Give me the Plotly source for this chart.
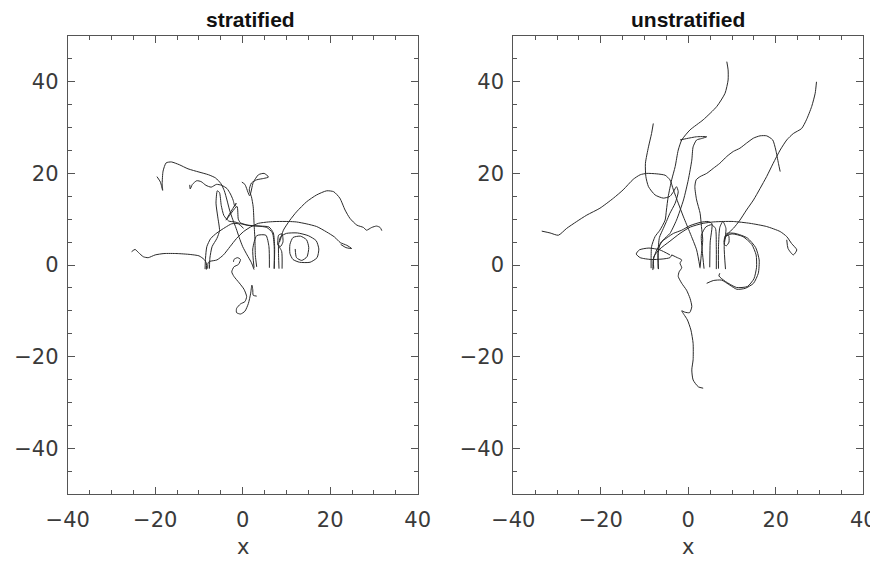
import plotly.graph_objects as go

# page is rendered with an 8px body margin, so the figure is offset by 8px
PAGE_OFF = 8
W, H = 878 - PAGE_OFF, 561 - PAGE_OFF

# ---------------- data: stratified (left panel) ----------------
s1_x = [-25.4, -24.6, -23.8, -22.7, -21.6, -20.0, -18.0, -15.0, -12.0, -10.0, -8.8, -8.3, -8.3]
s1_y = [2.9, 3.4, 2.7, 1.8, 1.6, 2.2, 2.5, 2.5, 2.3, 2.0, 1.2, 0.4, -1.0]

s2_x = [-19.6, -18.8, -18.3, -18.4, -18.2, -17.5, -16.3, -14.5, -12.5, -10.0, -7.8, -6.2, -5.0, -4.2, -3.6, -3.0, -2.3, -1.5, -0.8, 0.0, 1.0, 2.0, 2.6]
s2_y = [19.3, 18.1, 16.3, 17.8, 20.5, 22.3, 22.5, 21.9, 21.0, 20.3, 19.7, 19.0, 17.8, 16.2, 14.2, 12.0, 10.0, 8.0, 6.0, 4.0, 2.2, 0.5, -1.0]

s3_x = [-12.1, -12.0, -11.5, -10.5, -9.5, -8.4, -7.2, -6.0, -4.8, -3.6, -2.8, -2.2, -1.8, -1.5, -3.8, -1.3, -1.0, -0.5, 1.2, 3.5, 5.5, 6.8, 7.2, 7.2]
s3_y = [17.5, 16.6, 17.6, 18.4, 18.2, 17.4, 17.0, 17.6, 17.4, 16.7, 15.5, 14.2, 12.8, 13.5, 9.8, 12.8, 10.0, 9.2, 8.7, 8.5, 8.2, 7.0, 4.0, -0.8]

s4_x = [-7.6, -7.5, -7.0, -5.9, -5.3, -5.7, -6.1, -5.8, -5.3, -4.9, -4.3, -3.2, -1.8, -0.4, 1.5, 4.0, 6.0, 7.0, 7.3, 7.2]
s4_y = [-0.8, 1.5, 4.0, 5.8, 7.5, 10.5, 13.5, 16.2, 15.8, 13.0, 10.8, 9.6, 9.4, 9.0, 8.6, 8.5, 8.3, 7.0, 4.0, -0.8]

s5_x = [-8.0, -7.9, -7.5, -5.9, -4.4, -2.9, -1.4, 0.2, 1.8, 3.6, 5.9, 7.8, 10.5, 12.3, 14.5, 16.9, 19.2, 21.0, 22.3, 23.8, 24.9, 23.6, 22.4]
s5_y = [-0.8, 0.5, 0.8, 1.1, 2.2, 4.0, 5.8, 7.3, 8.3, 9.1, 9.4, 9.5, 9.5, 9.4, 9.0, 8.4, 7.2, 6.1, 4.9, 4.3, 3.6, 3.8, 4.5]

s6_x = [8.4, 8.6, 9.3, 10.8, 12.3, 14.6, 16.9, 19.2, 20.8, 22.2, 23.4, 24.5, 26.1, 27.6, 28.3, 29.5, 30.6, 31.4, 31.8]
s6_y = [5.0, 5.5, 7.6, 9.8, 11.6, 13.8, 15.3, 16.2, 16.0, 14.6, 12.0, 10.2, 8.7, 8.2, 7.6, 8.2, 8.5, 8.2, 7.5]

s7_x = [8.3, 8.2, 8.2, 8.7, 10.0, 12.5, 15.0, 16.8, 17.4, 17.0, 15.4, 13.0, 11.5, 10.8, 10.8, 11.5, 13.2, 14.6, 15.1, 14.7, 13.5, 12.3, 12.0]
s7_y = [-0.8, 2.0, 4.5, 6.2, 6.9, 7.0, 6.4, 5.3, 3.5, 1.6, 0.6, 0.6, 1.2, 2.5, 4.5, 6.0, 6.3, 5.5, 3.8, 1.8, 1.0, 1.6, 3.5]

s8_x = [8.0, 8.2, 9.0, 9.2, 8.6, 8.0, 8.9, 9.0]
s8_y = [4.5, 6.5, 6.8, 5.0, 4.0, 4.5, 3.0, -0.8]

s9_x = [-2.1, -2.0, -1.2, -0.5, -1.0, -2.0, -2.5, -2.0, -0.8, 0.3, 0.9, 0.5, -0.5, -1.4, -1.4, -0.5, 0.5, 1.3, 1.8, 2.1, 2.3, 2.4, 3.2]
s9_y = [0.7, 1.2, 1.6, 1.2, 0.1, -0.4, -1.5, -2.5, -3.9, -5.3, -6.9, -8.0, -8.5, -9.5, -10.4, -10.7, -10.1, -8.4, -6.3, -4.4, -5.4, -6.6, -6.8]

s10_x = [-0.2, 0.5, 1.6, 2.4, 3.6, 4.9, 5.9, 4.8, 3.2, 2.0, 1.5, 2.0, 2.4, 2.6, 2.8, 2.9, 3.2]
s10_y = [18.1, 17.6, 15.1, 18.0, 19.7, 20.0, 19.2, 18.9, 18.6, 17.9, 16.4, 14.9, 12.7, 9.0, 5.5, 2.0, -0.4]

s11_x = [2.6, 2.3, 3.2, 5.3, 6.0, 6.1]
s11_y = [-0.6, 3.5, 6.4, 6.5, 4.0, -0.6]

s12_x = [-8.6, -8.5, -8.2, -7.3, -5.9, -4.0, -2.5, -1.0, 0.2]
s12_y = [-0.9, 1.5, 4.0, 5.8, 7.0, 8.2, 9.0, 9.0, 8.0]

# ---------------- data: unstratified (right panel) ----------------
u1_x = [-33.5, -31.6, -29.7, -27.8, -25.5, -23.2, -20.2, -17.1, -14.9, -12.6, -11.0, -9.5, -7.2, -5.3, -4.2, -3.4, -2.3, -1.1, 0.4, 1.9, 2.7]
u1_y = [7.4, 7.0, 6.5, 8.0, 9.5, 10.9, 12.4, 14.6, 16.4, 18.7, 19.7, 20.0, 19.9, 19.6, 18.6, 16.4, 13.5, 10.5, 7.0, 3.3, -0.7]

u2_x = [8.8, 9.1, 9.1, 8.4, 6.5, 3.4, 0.4, -1.5, -2.3, -3.0, -3.8, -4.6, -5.0, -5.3, -6.5, -7.6, -8.4, -8.5, -8.5]
u2_y = [44.4, 42.6, 40.4, 37.5, 34.6, 31.7, 29.5, 27.3, 25.1, 21.5, 18.6, 14.9, 12.0, 9.8, 7.6, 6.2, 4.0, 1.1, -0.7]

u3_x = [-8.0, -8.4, -9.1, -9.8, -9.7, -9.1, -7.6, -5.7, -4.2, -3.4, -2.7, -2.3, -3.0, -4.2, -5.0, -5.7, -6.6, -6.9, -6.9]
u3_y = [30.9, 28.7, 25.8, 22.2, 19.3, 17.1, 15.3, 14.6, 15.0, 16.0, 17.1, 16.0, 13.5, 11.3, 9.5, 8.0, 6.0, 3.0, -0.8]

u4_x = [-1.9, -0.4, 1.9, 4.2, 3.0, 1.9, 1.1, 0.8, 0.0, -1.1, -2.7, -4.2, -5.7, -7.2, -8.0, -8.1]
u4_y = [27.3, 27.6, 28.0, 28.0, 27.6, 27.3, 25.8, 22.9, 18.6, 14.2, 9.8, 6.9, 5.5, 3.3, 1.1, -1.1]

u5_x = [29.3, 29.0, 28.2, 27.0, 25.9, 24.0, 22.5, 21.0, 19.4, 17.9, 16.4, 14.9, 13.3, 11.8, 10.3, 9.1, 8.4, 8.2]
u5_y = [40.0, 37.5, 34.6, 31.7, 29.8, 28.7, 27.3, 25.1, 22.2, 19.3, 16.7, 14.2, 12.0, 9.8, 8.0, 6.9, 5.8, 5.1]

u6_x = [21.0, 20.6, 20.0, 19.3, 17.9, 16.4, 14.9, 13.3, 11.8, 10.3, 8.8, 7.2, 5.7, 4.2, 2.7, 1.8, 1.5, 1.9, 2.7, 3.0, 3.3, 3.0, 2.7]
u6_y = [20.4, 22.2, 25.1, 27.3, 28.2, 28.2, 27.7, 26.6, 25.5, 24.8, 23.7, 22.2, 21.1, 20.0, 19.3, 18.6, 17.1, 14.2, 11.3, 8.4, 5.5, 2.5, -0.4]

u7_x = [-4.2, -6.5, -9.0, -11.2, -11.9, -11.0, -8.5, -6.0, -4.2, -3.8]
u7_y = [2.2, 3.3, 3.7, 3.3, 2.4, 1.6, 1.2, 1.3, 1.6, 2.2]

u8_x = [-3.8, -2.5, -1.5, -1.9, -1.5, -2.1, -2.3, -1.5, -0.4, 0.4, 0.8, 0.3, -0.8, -1.5, -1.0, -0.2, 0.6, 1.1, 1.1, 0.8, 1.1, 2.3, 3.4]
u8_y = [2.2, 1.6, 1.1, 0.4, -0.6, -1.5, -2.5, -4.0, -5.5, -7.3, -9.1, -10.4, -10.3, -10.0, -10.8, -12.0, -14.2, -17.1, -20.7, -22.9, -25.1, -26.6, -26.9]

u9_x = [-7.9, -7.9, -6.5, -4.2, -1.9, 0.5, 3.4, 5.7, 8.0, 10.3, 14.1, 17.9, 21.0, 22.5, 23.6, 24.8, 24.0, 22.8, 22.5]
u9_y = [-0.8, 1.8, 3.5, 5.2, 6.9, 8.3, 9.1, 9.4, 9.5, 9.5, 9.1, 8.4, 7.3, 6.2, 4.7, 3.3, 2.2, 3.6, 5.5]

u10_x = [4.2, 5.7, 7.6, 9.5, 11.1, 13.0, 14.9, 16.0, 16.2, 15.4, 13.5, 10.7, 8.8, 8.4]
u10_y = [-4.0, -3.4, -3.3, -4.4, -5.3, -5.1, -4.0, -1.8, 1.1, 3.8, 5.9, 6.9, 6.9, 5.8]

u11_x = [7.2, 7.0, 8.5, 11.0, 13.5, 15.0, 15.6, 15.5, 14.5, 12.5, 10.0, 8.6]
u11_y = [-1.8, -2.4, -3.6, -4.9, -4.7, -3.0, -0.5, 2.2, 4.5, 6.2, 6.8, 6.4]

u12_x = [3.6, 3.2, 3.0, 4.0, 5.3, 6.2, 6.4, 6.4]
u12_y = [-0.8, 3.0, 6.5, 8.3, 8.8, 8.0, 4.0, -0.9]

u13_x = [6.9, 6.9, 7.2, 7.9, 8.6, 8.2, 8.5]
u13_y = [-0.8, 4.0, 8.2, 9.5, 8.0, 4.0, -0.9]

u14_x = [8.2, 8.4, 9.2, 9.3, 8.7, 8.2]
u14_y = [4.5, 6.3, 6.5, 5.0, 4.2, 4.5]

u15_x = [-6.8, -6.9, -6.3, -4.8, -3.4, -1.5, 0.4, 2.7, 4.6, 5.4, 5.0, 4.9]
u15_y = [-0.9, 2.5, 4.9, 6.0, 6.9, 7.6, 8.6, 9.3, 9.5, 9.0, 5.0, -0.5]

left_lines = [(s1_x, s1_y), (s2_x, s2_y), (s3_x, s3_y), (s4_x, s4_y), (s5_x, s5_y),
              (s6_x, s6_y), (s7_x, s7_y), (s8_x, s8_y), (s9_x, s9_y), (s10_x, s10_y),
              (s11_x, s11_y), (s12_x, s12_y)]
right_lines = [(u1_x, u1_y), (u2_x, u2_y), (u3_x, u3_y), (u4_x, u4_y), (u5_x, u5_y),
               (u6_x, u6_y), (u7_x, u7_y), (u8_x, u8_y), (u9_x, u9_y), (u10_x, u10_y),
               (u11_x, u11_y), (u12_x, u12_y), (u13_x, u13_y), (u14_x, u14_y), (u15_x, u15_y)]

titles = ["stratified", "unstratified"]
x_ticks = [-40, -20, 0, 20, 40]
x_ticktext = ["\u221240", "\u221220", "0", "20", "40"]
y_ticks = [-40, -20, 0, 20, 40]
y_ticktext = ["\u221240", "\u221220", "0", "20", "40"]

LINE_COLOR = "#2a2a2a"
AX_COLOR = "#555555"
TXT_COLOR = "#3a3a3a"
TICK_FONT = "DejaVu Sans"
TITLE_FONT = "Liberation Sans"

def px_x(p):  # page pixel -> paper x
    return (p - PAGE_OFF) / W

def px_y(p):  # page pixel (from top) -> paper y
    return (H - (p - PAGE_OFF)) / H

fig = go.Figure()
for xs, ys in left_lines:
    fig.add_trace(go.Scatter(x=xs, y=ys, mode="lines", line=dict(color=LINE_COLOR, width=1, shape="spline", smoothing=0.6),
                             xaxis="x", yaxis="y", showlegend=False, hoverinfo="skip"))
for xs, ys in right_lines:
    fig.add_trace(go.Scatter(x=xs, y=ys, mode="lines", line=dict(color=LINE_COLOR, width=1, shape="spline", smoothing=0.6),
                             xaxis="x2", yaxis="y2", showlegend=False, hoverinfo="skip"))

def xax(domain, anchor):
    return dict(domain=domain, anchor=anchor, range=[-40, 40], tickmode="array", tickvals=x_ticks, ticktext=x_ticktext,
                ticks="inside", ticklen=7, tickwidth=1, tickcolor=AX_COLOR, showline=True, linecolor=AX_COLOR, linewidth=1,
                mirror="ticks", showgrid=False, zeroline=False, ticklabelstandoff=7,
                tickfont=dict(family=TICK_FONT, size=21, color=TXT_COLOR),
                minor=dict(dtick=5, tick0=0, ticks="inside", ticklen=4, tickcolor=AX_COLOR, tickwidth=1, showgrid=False))

def yax(domain, anchor):
    return dict(domain=domain, anchor=anchor, range=[-50, 50], tickmode="array", tickvals=y_ticks, ticktext=y_ticktext,
                ticks="inside", ticklen=7, tickwidth=1, tickcolor=AX_COLOR, showline=True, linecolor=AX_COLOR, linewidth=1,
                mirror="ticks", showgrid=False, zeroline=False, ticklabelstandoff=4,
                tickfont=dict(family=TICK_FONT, size=21, color=TXT_COLOR),
                minor=dict(dtick=5, tick0=0, ticks="inside", ticklen=4, tickcolor=AX_COLOR, tickwidth=1, showgrid=False))

ydom = [px_y(494), px_y(36)]
fig.update_layout(
    width=W, height=H, paper_bgcolor="white", plot_bgcolor="white",
    margin=dict(l=0, r=0, t=0, b=0, autoexpand=False),
    xaxis=xax([px_x(67.7), px_x(417.7)], "y"),
    yaxis=yax(ydom, "x"),
    xaxis2=xax([px_x(513.3), px_x(863.3)], "y2"),
    yaxis2=yax(ydom, "x2"),
    annotations=[
        dict(text=titles[0], x=px_x(250.5), y=px_y(19), xref="paper", yref="paper", showarrow=False,
             xanchor="center", yanchor="middle", font=dict(family=TITLE_FONT, size=21, color="#111111", weight="bold")),
        dict(text=titles[1], x=px_x(688.3), y=px_y(19), xref="paper", yref="paper", showarrow=False,
             xanchor="center", yanchor="middle", font=dict(family=TITLE_FONT, size=21, color="#111111", weight="bold")),
        dict(text="x", x=px_x(242.7), y=px_y(547), xref="paper", yref="paper", showarrow=False,
             xanchor="center", yanchor="middle", font=dict(family=TICK_FONT, size=21, color=TXT_COLOR)),
        dict(text="x", x=px_x(688.3), y=px_y(547), xref="paper", yref="paper", showarrow=False,
             xanchor="center", yanchor="middle", font=dict(family=TICK_FONT, size=21, color=TXT_COLOR)),
    ],
)

fig.write_html("out.html")
